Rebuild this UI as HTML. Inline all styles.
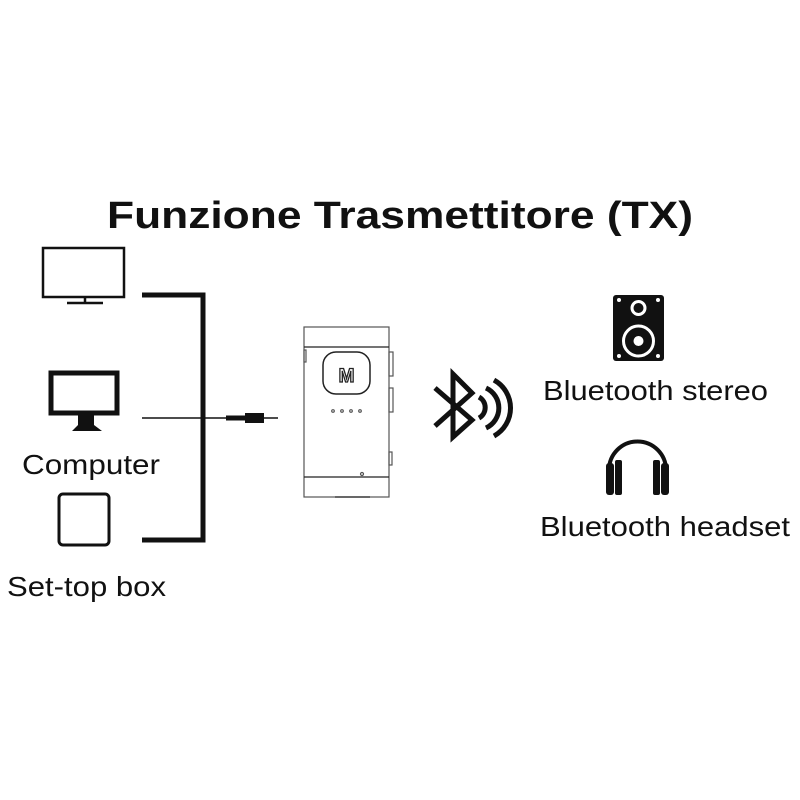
<!DOCTYPE html>
<html><head><meta charset="utf-8"><style>
html,body{margin:0;padding:0;background:#fff;}
svg{display:block;}
text{font-family:"Liberation Sans",sans-serif;fill:#111;}
</style></head><body>
<svg width="800" height="800" viewBox="0 0 800 800" xmlns="http://www.w3.org/2000/svg">
<text x="400" y="228" text-anchor="middle" font-size="38" font-weight="bold" textLength="586" lengthAdjust="spacingAndGlyphs">Funzione Trasmettitore (TX)</text>
<!-- TV -->
<rect x="43" y="248" width="81" height="49" fill="none" stroke="#111" stroke-width="2.5"/>
<line x1="85" y1="297" x2="85" y2="303" stroke="#111" stroke-width="2.5"/>
<line x1="67" y1="303" x2="103" y2="303" stroke="#111" stroke-width="2.5"/>
<!-- bracket -->
<polyline points="142,295 203,295 203,540 142,540" fill="none" stroke="#111" stroke-width="5"/>
<!-- computer -->
<rect x="51" y="373" width="66" height="40" fill="none" stroke="#111" stroke-width="5"/>
<polygon points="78,415 94,415 94,425 102,431 72,431 78,425" fill="#111"/>
<!-- cable -->
<line x1="142" y1="418" x2="278" y2="418" stroke="#111" stroke-width="1.5"/>
<rect x="226" y="415.5" width="20" height="5" fill="#111"/>
<rect x="245" y="413" width="19" height="10" fill="#111"/>
<text x="22" y="474" font-size="28" textLength="138" lengthAdjust="spacingAndGlyphs">Computer</text>
<rect x="59" y="494" width="50" height="51" rx="4" fill="none" stroke="#111" stroke-width="3"/>
<text x="7" y="596" font-size="28" textLength="159" lengthAdjust="spacingAndGlyphs">Set-top box</text>
<!-- device -->
<g fill="none" stroke="#555" stroke-width="1.2">
<rect x="304" y="327" width="85" height="170"/>
<line x1="304" y1="347" x2="389" y2="347" stroke="#222"/>
<line x1="304" y1="477" x2="389" y2="477" stroke="#222"/>
<rect x="323" y="352" width="47" height="42" rx="13" stroke="#222" stroke-width="1.5"/>
<rect x="389" y="352" width="4" height="24"/>
<rect x="389" y="388" width="4" height="24"/>
<rect x="389" y="452" width="3" height="13"/>
<rect x="304" y="350" width="2" height="12"/>
<line x1="335" y1="497" x2="370" y2="497" stroke="#222"/>
<circle cx="333" cy="411" r="1.3"/><circle cx="342" cy="411" r="1.3"/><circle cx="351" cy="411" r="1.3"/><circle cx="360" cy="411" r="1.3"/>
<circle cx="362" cy="474" r="1.5"/>
</g>
<text x="346.5" y="382" text-anchor="middle" font-size="19" font-weight="bold" style="fill:#fff" stroke="#222" stroke-width="1.3">M</text>
<!-- bluetooth -->
<g fill="none" stroke="#111" stroke-width="5" stroke-linejoin="miter">
<polyline points="435,388 472,420 453,437 453,374 472,393 435,426"/>
<path d="M479,397 A12,12 0 0 1 479,418"/>
<path d="M486,388 A22,22 0 0 1 486,428"/>
<path d="M494,380 A32,32 0 0 1 494,436"/>
</g>
<!-- speaker -->
<rect x="613" y="295" width="51" height="66" rx="3" fill="#111"/>
<g fill="#fff">
<circle cx="619" cy="300" r="2"/><circle cx="658" cy="300" r="2"/><circle cx="619" cy="356" r="2"/><circle cx="658" cy="356" r="2"/>
</g>
<circle cx="638.5" cy="308" r="6.5" fill="none" stroke="#fff" stroke-width="3"/>
<circle cx="638.5" cy="341" r="15" fill="none" stroke="#fff" stroke-width="3"/>
<circle cx="638.5" cy="341" r="5" fill="#fff"/>
<text x="543" y="400" font-size="28" textLength="225" lengthAdjust="spacingAndGlyphs">Bluetooth stereo</text>
<!-- headphones -->
<path d="M609,470 A28.5,28.5 0 0 1 666,470" fill="none" stroke="#111" stroke-width="4"/>
<rect x="606" y="463" width="8" height="32" rx="3" fill="#111"/>
<rect x="615" y="460" width="7" height="35" rx="2" fill="#111"/>
<rect x="661" y="463" width="8" height="32" rx="3" fill="#111"/>
<rect x="653" y="460" width="7" height="35" rx="2" fill="#111"/>
<text x="540" y="536" font-size="28" textLength="250" lengthAdjust="spacingAndGlyphs">Bluetooth headset</text>
</svg>
</body></html>
